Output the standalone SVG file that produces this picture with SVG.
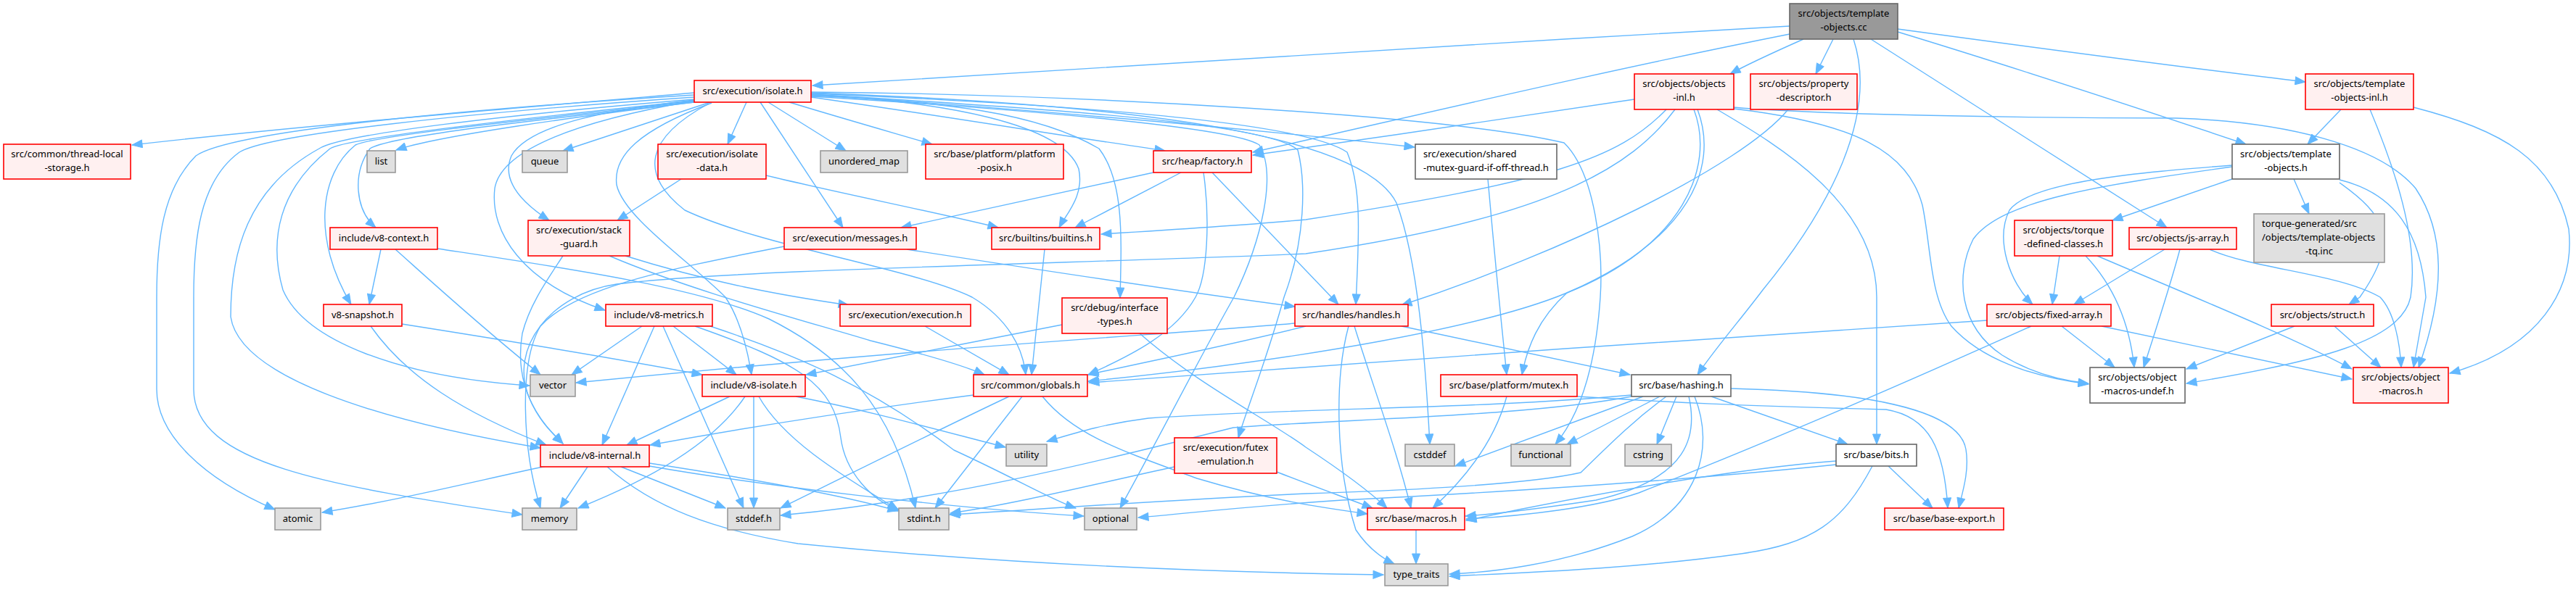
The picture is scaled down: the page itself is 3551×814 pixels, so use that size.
<svg xmlns="http://www.w3.org/2000/svg" width="3551" height="814" viewBox="0 0 3551 814">
<style>
text{font-family:"Noto Sans","DejaVu Sans",sans-serif;font-size:13px;fill:#000;text-anchor:middle}
text.l{text-anchor:start}
.r{fill:#fff0f0;stroke:#ff0000;stroke-width:1.6}
.g{fill:#e0e0e0;stroke:#999999;stroke-width:1.6}
.w{fill:#ffffff;stroke:#666666;stroke-width:1.6}
.k{fill:#999999;stroke:#666666;stroke-width:1.6}
#edges path{fill:none;stroke:#63b8ff;stroke-width:1.4;marker-end:url(#a)}
</style>
<defs>
<marker id="a" markerUnits="userSpaceOnUse" markerWidth="16" markerHeight="12" viewBox="-15 -6 16 12" refX="0" refY="0" orient="auto">
<path d="M-14,-5.5 L0,0 L-14,5.5 Z" fill="#63b8ff" stroke="#63b8ff" stroke-width="1"/>
</marker>
</defs>
<rect width="3551" height="814" fill="#ffffff"/>
<g id="edges">
<path d="M2467,36 C2000,62 1500,95 1120,118"/>
<path d="M2467,47 C2200,100 1950,160 1727,210"/>
<path d="M2486,54 C2450,70 2410,88 2385,102"/>
<path d="M2527,54 L2503,102"/>
<path d="M2555,54 C2590,160 2520,290 2430,400 C2400,440 2365,480 2340,517"/>
<path d="M2579,54 L2987,314"/>
<path d="M2616,44 C2800,100 2950,150 3096,199"/>
<path d="M2616,40 C2800,65 3000,92 3178,113"/>
<path d="M2253,137 C2100,160 1900,190 1727,214"/>
<path d="M2297,151 C2230,220 2140,250 1800,303 C1700,312 1600,318 1518,323"/>
<path d="M2309,151 C2250,230 2140,300 1800,350 C1500,363 1000,372 850,392 C760,405 700,480 730,550 C745,585 765,600 776,612"/>
<path d="M2340,151 C2370,230 2330,330 2160,404 C2050,450 1800,496 1500,526"/>
<path d="M2335,151 C2365,230 2320,340 2160,404 C2120,440 2105,480 2098,517"/>
<path d="M2367,151 C2450,200 2587,280 2587,410 L2587,613"/>
<path d="M2390,148 C2500,158 2800,163 3000,163 C3150,168 3280,200 3330,260 C3370,320 3372,400 3334,507"/>
<path d="M2390,150 C2560,170 2630,210 2650,283 C2662,340 2660,410 2690,450 C2730,495 2800,520 2879,530"/>
<path d="M2465,151 C2400,230 2150,350 1932,421"/>
<path d="M3227,151 L3181,199"/>
<path d="M3267,151 C3300,230 3335,330 3323,410 C3310,470 3197,499 3014,529"/>
<path d="M3327,148 C3450,180 3520,220 3541,316 C3550,400 3500,480 3377,515"/>
<path d="M3162,247 L3183,295"/>
<path d="M3077,247 L2912,304"/>
<path d="M3077,228 C2950,238 2800,250 2770,290 C2750,330 2770,390 2802,420"/>
<path d="M3077,230 C2900,255 2760,275 2720,330 C2695,380 2700,450 2760,490 C2800,515 2840,525 2879,529"/>
<path d="M3225,252 C3288,297 3309,330 3253,410 L3238,420"/>
<path d="M3225,248 C3302,267 3337,320 3344,410 L3327,507"/>
<path d="M2839,353 L2829,420"/>
<path d="M2875,353 C2910,390 2935,440 2942,507"/>
<path d="M2891,353 C3000,400 3150,460 3242,509"/>
<path d="M2984,344 L2859,420"/>
<path d="M3005,344 C2990,400 2970,460 2955,507"/>
<path d="M3046,344 C3105,371 3225,377 3281,410 C3300,430 3308,470 3310,507"/>
<path d="M3163,450 L3014,509"/>
<path d="M3218,450 L3282,507"/>
<path d="M2739,442 C2400,465 1800,504 1501,528"/>
<path d="M2800,450 C2600,540 2400,625 2259,680 C2200,700 2100,712 2021,716"/>
<path d="M2842,450 L2915,507"/>
<path d="M2897,450 L3242,523"/>
<path d="M957,128 C700,150 400,175 182,200"/>
<path d="M957,131 C650,150 320,180 270,215 C225,260 216,330 216,410 L216,537 C216,600 280,660 379,703"/>
<path d="M957,134 C650,155 370,185 330,210 C275,250 267,330 267,410 L267,537 C267,640 450,670 720,710"/>
<path d="M957,137 C700,158 470,185 440,205 C340,260 318,350 318,437 C330,520 520,580 745,618"/>
<path d="M957,139 C750,160 480,190 455,205 C385,260 370,330 390,400 C420,470 550,520 730,532"/>
<path d="M957,140 C800,158 520,185 490,200 C440,240 430,330 484,420"/>
<path d="M957,141 C800,160 540,185 510,205 C485,240 490,290 518,314"/>
<path d="M957,141 C800,160 600,188 546,207"/>
<path d="M979,141 L776,208"/>
<path d="M957,138 C850,150 730,170 705,215 C690,250 720,280 757,304"/>
<path d="M957,139 C780,170 690,210 682,260 C675,320 720,390 834,428"/>
<path d="M1029,141 L1003,199"/>
<path d="M1059,141 L1166,208"/>
<path d="M1048,141 L1162,314"/>
<path d="M1088,141 C1150,160 1220,180 1285,199"/>
<path d="M1118,134 C1300,160 1450,185 1606,208"/>
<path d="M1118,131 C1300,140 1464,170 1487,233 C1495,270 1470,295 1460,314"/>
<path d="M1118,130 C1400,150 1700,175 1950,203"/>
<path d="M1118,129 C1500,145 1800,170 1857,210 C1878,260 1873,330 1869,420"/>
<path d="M1118,128 C1600,145 1880,190 1925,280 C1955,360 1965,500 1971,613"/>
<path d="M1118,127 C1500,130 2000,160 2156,197 C2200,240 2210,350 2206,410 C2200,500 2180,570 2144,613"/>
<path d="M1118,132 C1300,140 1430,155 1515,205 C1550,250 1546,330 1544,411"/>
<path d="M981,142 C880,180 845,215 850,255 C860,300 950,360 1000,410 C1020,440 1030,480 1036,517"/>
<path d="M977,143 C890,190 880,240 944,290 C1050,340 1257,370 1340,410 C1390,440 1410,480 1414,517"/>
<path d="M1118,133 C1400,150 1700,175 1736,200 C1760,240 1740,330 1701,410 C1650,500 1600,600 1544,701"/>
<path d="M1118,130 C1450,150 1750,170 1789,207 C1800,250 1800,330 1770,410 C1745,500 1720,560 1707,604"/>
<path d="M939,247 L851,304"/>
<path d="M1056,242 C1150,265 1300,295 1376,314"/>
<path d="M776,353 C755,385 730,420 720,460 C710,520 730,570 776,612"/>
<path d="M862,353 C980,390 1080,408 1170,421"/>
<path d="M840,353 C950,400 1100,440 1200,470 C1280,490 1330,505 1357,517"/>
<path d="M525,344 L509,420"/>
<path d="M545,344 C580,375 650,440 745,517"/>
<path d="M603,343 C761,367 960,395 1060,440 C1160,490 1230,560 1262,701"/>
<path d="M1250,344 C1450,375 1650,405 1785,423"/>
<path d="M1081,340 C900,375 790,400 745,450 C715,500 720,620 745,701"/>
<path d="M1590,238 L1242,314"/>
<path d="M1628,238 L1482,314"/>
<path d="M1659,238 C1668,300 1665,380 1648,410 C1620,460 1560,490 1500,517"/>
<path d="M1671,238 L1845,420"/>
<path d="M1440,344 L1422,517"/>
<path d="M1275,450 L1391,517"/>
<path d="M1464,448 C1350,470 1200,500 1111,517"/>
<path d="M1571,460 C1650,530 1750,580 1800,617 C1850,650 1890,680 1912,701"/>
<path d="M1785,446 C1600,462 1300,478 794,528"/>
<path d="M1800,450 C1700,475 1600,495 1500,517"/>
<path d="M1932,450 L2247,517"/>
<path d="M1867,450 C1895,540 1925,620 1945,701"/>
<path d="M1859,450 C1840,520 1840,640 1869,731 C1885,755 1905,770 1922,778"/>
<path d="M554,447 C700,470 850,495 968,517"/>
<path d="M511,450 C560,520 640,570 753,614"/>
<path d="M885,450 L788,517"/>
<path d="M902,450 L830,614"/>
<path d="M914,450 L1025,701"/>
<path d="M928,450 L1015,517"/>
<path d="M979,450 C1100,490 1200,534 1315,621 C1400,660 1450,690 1483,701"/>
<path d="M958,450 C1100,500 1150,530 1159,604 C1165,650 1200,690 1240,704"/>
<path d="M1006,547 L864,614"/>
<path d="M1027,547 C985,610 900,660 797,701"/>
<path d="M1039,547 L1039,701"/>
<path d="M1046,547 C1078,604 1150,650 1238,703"/>
<path d="M1097,547 C1200,567 1300,595 1386,617"/>
<path d="M1342,545 C1150,570 1000,595 896,614"/>
<path d="M1409,547 L1289,701"/>
<path d="M1391,547 C1300,590 1200,640 1076,701"/>
<path d="M1437,547 C1480,600 1544,621 1650,660 C1750,690 1820,700 1885,709"/>
<path d="M753,643 C650,665 550,690 444,707"/>
<path d="M810,644 L772,701"/>
<path d="M856,644 L1000,701"/>
<path d="M895,639 C1000,655 1150,680 1238,705"/>
<path d="M895,643 C1050,670 1300,700 1494,712"/>
<path d="M837,644 C900,700 983,731 1100,750 C1400,780 1700,790 1907,793"/>
<path d="M1619,644 C1500,670 1400,695 1310,708"/>
<path d="M1760,651 C1800,667 1850,685 1892,701"/>
<path d="M2077,547 C2060,610 2020,660 1975,701"/>
<path d="M2174,547 C2300,555 2400,560 2600,565 C2660,575 2680,620 2685,701"/>
<path d="M2051,247 C2060,350 2070,450 2077,517"/>
<path d="M2265,547 L2006,643"/>
<path d="M2288,547 L2160,613"/>
<path d="M2311,547 L2284,613"/>
<path d="M2249,545 C2030,565 1800,562 1583,577 C1520,585 1480,598 1443,609"/>
<path d="M2249,547 C2100,575 1850,578 1700,590 C1500,640 1300,690 1076,711"/>
<path d="M2297,547 C2252,580 2221,611 2179,652 C2100,670 1900,678 1800,681 C1600,690 1400,705 1309,710"/>
<path d="M2328,547 C2340,600 2330,660 2200,690 C2100,705 2050,710 2020,712"/>
<path d="M2336,547 C2365,620 2340,700 2250,740 C2150,780 2050,790 1998,792"/>
<path d="M2359,547 L2547,613"/>
<path d="M2386,536 C2550,540 2700,560 2710,620 C2715,650 2705,680 2700,701"/>
<path d="M2603,643 L2664,701"/>
<path d="M2581,643 C2540,720 2500,750 2400,764 C2250,785 2100,790 1998,795"/>
<path d="M2531,636 C2400,646 2200,680 2021,718"/>
<path d="M2531,641 C2300,665 2050,680 1850,690 C1700,700 1620,710 1569,714"/>
<path d="M1952,731 L1952,778"/>
</g>
<g id="n1"><rect class="k" x="2467" y="5" width="149" height="49"/><text x="2541.5" y="23">src/objects/template</text><text x="2541.5" y="42">-objects.cc</text></g>
<g id="n2"><rect class="r" x="957" y="111" width="161" height="30"/><text x="1037.5" y="130">src/execution/isolate.h</text></g>
<g id="n3"><rect class="r" x="2253" y="102" width="137" height="49"/><text x="2321.5" y="120">src/objects/objects</text><text x="2321.5" y="139">-inl.h</text></g>
<g id="n4"><rect class="r" x="2413" y="102" width="147" height="49"/><text x="2486.5" y="120">src/objects/property</text><text x="2486.5" y="139">-descriptor.h</text></g>
<g id="n5"><rect class="r" x="3178" y="102" width="149" height="49"/><text x="3252.5" y="120">src/objects/template</text><text x="3252.5" y="139">-objects-inl.h</text></g>
<g id="n6"><rect class="r" x="5" y="199" width="175" height="48"/><text x="92.5" y="217">src/common/thread-local</text><text x="92.5" y="236">-storage.h</text></g>
<g id="n7"><rect class="g" x="506" y="208" width="39" height="30"/><text x="525.5" y="227">list</text></g>
<g id="n8"><rect class="g" x="720" y="208" width="62" height="30"/><text x="751" y="227">queue</text></g>
<g id="n9"><rect class="r" x="907" y="199" width="149" height="48"/><text x="981.5" y="217">src/execution/isolate</text><text x="981.5" y="236">-data.h</text></g>
<g id="n10"><rect class="g" x="1131" y="208" width="120" height="30"/><text x="1191" y="227">unordered_map</text></g>
<g id="n11"><rect class="r" x="1276" y="199" width="190" height="48"/><text x="1371" y="217">src/base/platform/platform</text><text x="1371" y="236">-posix.h</text></g>
<g id="n12"><rect class="r" x="1590" y="208" width="135" height="30"/><text x="1657.5" y="227">src/heap/factory.h</text></g>
<g id="n13"><rect class="w" x="1951" y="199" width="195" height="48"/><text class="l" x="1962" y="217">src/execution/shared</text><text class="l" x="1962" y="236">-mutex-guard-if-off-thread.h</text></g>
<g id="n14"><rect class="w" x="3077" y="199" width="148" height="48"/><text x="3151" y="217">src/objects/template</text><text x="3151" y="236">-objects.h</text></g>
<g id="n15"><rect class="r" x="455" y="314" width="148" height="30"/><text x="529" y="333">include/v8-context.h</text></g>
<g id="n16"><rect class="r" x="728" y="304" width="140" height="49"/><text x="798" y="322">src/execution/stack</text><text x="798" y="341">-guard.h</text></g>
<g id="n17"><rect class="r" x="1081" y="314" width="182" height="30"/><text x="1172" y="333">src/execution/messages.h</text></g>
<g id="n18"><rect class="r" x="1367" y="314" width="149" height="30"/><text x="1441.5" y="333">src/builtins/builtins.h</text></g>
<g id="n19"><rect class="r" x="2777" y="304" width="135" height="49"/><text x="2844.5" y="322">src/objects/torque</text><text x="2844.5" y="341">-defined-classes.h</text></g>
<g id="n20"><rect class="r" x="2935" y="314" width="148" height="30"/><text x="3009" y="333">src/objects/js-array.h</text></g>
<g id="n21"><rect class="g" x="3107" y="295" width="180" height="67"/><text class="l" x="3118" y="313">torque-generated/src</text><text class="l" x="3118" y="332">/objects/template-objects</text><text x="3197" y="351">-tq.inc</text></g>
<g id="n22"><rect class="r" x="446" y="420" width="108" height="30"/><text x="500" y="439">v8-snapshot.h</text></g>
<g id="n23"><rect class="r" x="835" y="420" width="147" height="30"/><text x="908.5" y="439">include/v8-metrics.h</text></g>
<g id="n24"><rect class="r" x="1158" y="420" width="180" height="30"/><text x="1248" y="439">src/execution/execution.h</text></g>
<g id="n25"><rect class="r" x="1464" y="411" width="145" height="49"/><text x="1536.5" y="429">src/debug/interface</text><text x="1536.5" y="448">-types.h</text></g>
<g id="n26"><rect class="r" x="1785" y="420" width="156" height="30"/><text x="1863" y="439">src/handles/handles.h</text></g>
<g id="n27"><rect class="r" x="2739" y="420" width="171" height="30"/><text x="2824.5" y="439">src/objects/fixed-array.h</text></g>
<g id="n28"><rect class="r" x="3131" y="420" width="141" height="30"/><text x="3201.5" y="439">src/objects/struct.h</text></g>
<g id="n29"><rect class="g" x="731" y="517" width="62" height="30"/><text x="762" y="536">vector</text></g>
<g id="n30"><rect class="r" x="968" y="517" width="142" height="30"/><text x="1039" y="536">include/v8-isolate.h</text></g>
<g id="n31"><rect class="r" x="1342" y="517" width="157" height="30"/><text x="1420.5" y="536">src/common/globals.h</text></g>
<g id="n32"><rect class="r" x="1986" y="517" width="188" height="30"/><text x="2080" y="536">src/base/platform/mutex.h</text></g>
<g id="n33"><rect class="w" x="2249" y="517" width="137" height="30"/><text x="2317.5" y="536">src/base/hashing.h</text></g>
<g id="n34"><rect class="w" x="2881" y="507" width="131" height="49"/><text x="2946.5" y="525">src/objects/object</text><text x="2946.5" y="544">-macros-undef.h</text></g>
<g id="n35"><rect class="r" x="3244" y="507" width="131" height="49"/><text x="3309.5" y="525">src/objects/object</text><text x="3309.5" y="544">-macros.h</text></g>
<g id="n36"><rect class="r" x="745" y="614" width="150" height="30"/><text x="820" y="633">include/v8-internal.h</text></g>
<g id="n37"><rect class="g" x="1387" y="613" width="56" height="30"/><text x="1415" y="632">utility</text></g>
<g id="n38"><rect class="r" x="1619" y="604" width="141" height="49"/><text x="1689.5" y="622">src/execution/futex</text><text x="1689.5" y="641">-emulation.h</text></g>
<g id="n39"><rect class="g" x="1937" y="613" width="68" height="30"/><text x="1971" y="632">cstddef</text></g>
<g id="n40"><rect class="g" x="2083" y="613" width="82" height="30"/><text x="2124" y="632">functional</text></g>
<g id="n41"><rect class="g" x="2240" y="613" width="64" height="30"/><text x="2272" y="632">cstring</text></g>
<g id="n42"><rect class="w" x="2531" y="613" width="111" height="30"/><text x="2586.5" y="632">src/base/bits.h</text></g>
<g id="n43"><rect class="g" x="379" y="701" width="63" height="30"/><text x="410.5" y="720">atomic</text></g>
<g id="n44"><rect class="g" x="720" y="701" width="75" height="30"/><text x="757.5" y="720">memory</text></g>
<g id="n45"><rect class="g" x="1003" y="701" width="72" height="30"/><text x="1039" y="720">stddef.h</text></g>
<g id="n46"><rect class="g" x="1239" y="701" width="69" height="30"/><text x="1273.5" y="720">stdint.h</text></g>
<g id="n47"><rect class="g" x="1495" y="701" width="72" height="30"/><text x="1531" y="720">optional</text></g>
<g id="n48"><rect class="r" x="1885" y="701" width="134" height="30"/><text x="1952" y="720">src/base/macros.h</text></g>
<g id="n49"><rect class="r" x="2598" y="701" width="164" height="30"/><text x="2680" y="720">src/base/base-export.h</text></g>
<g id="n50"><rect class="g" x="1909" y="778" width="87" height="30"/><text x="1952.5" y="797">type_traits</text></g>
</svg>
